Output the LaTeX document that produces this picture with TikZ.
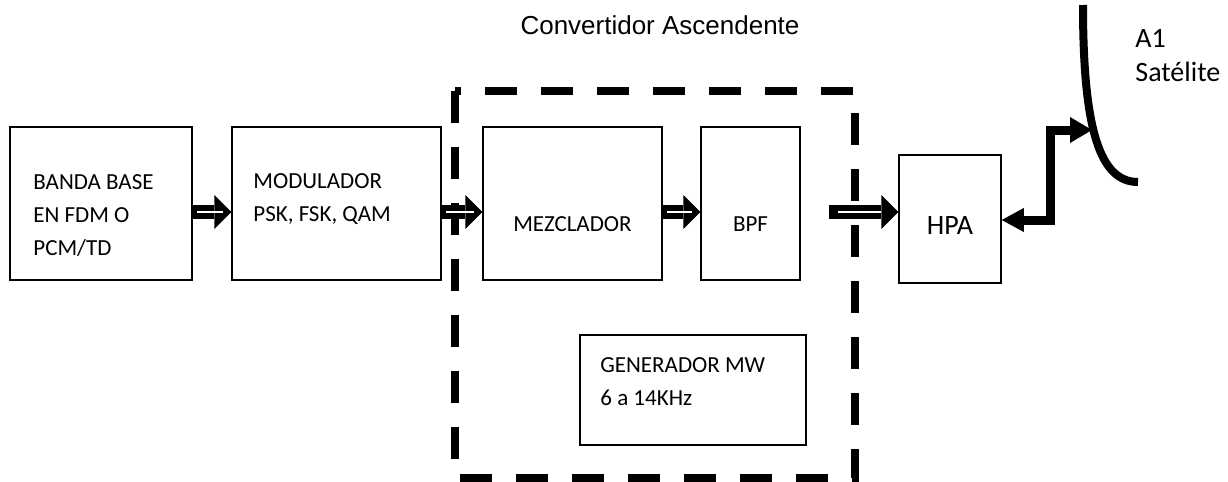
\documentclass[tikz,border=0pt]{standalone}
\usepackage{fontspec}
\setmainfont{Carlito}
\newfontfamily\arialfont{Liberation Sans}
\usetikzlibrary{arrows.meta}

\begin{document}
\begin{tikzpicture}[x=0.5pt, y=-0.5pt,
  blk/.style={draw, line width=0.75pt, inner sep=0pt},
  txt/.style={anchor=north west, inner sep=0pt, align=left, font=\fontsize{11.5}{16.5}\selectfont},
  fat/.style={line width=7pt, -{Triangle[length=8.5pt, width=17pt, line width=0pt]}},
  slit/.style={white, line width=1pt, shorten <=2pt, shorten >=4pt},
  feedline/.style={line width=4.5pt, {Triangle[length=11pt, width=12pt, line width=0pt]}-{Triangle[length=11pt, width=13pt, line width=0pt]}}]

  \useasboundingbox (0,0) rectangle (1228,482);

  % marco del convertidor
  \draw[line width=4pt, dash pattern=on 16pt off 12pt] (455,91) rectangle (855,478);
  \node[font=\arialfont\fontsize{13}{15}\selectfont] (title) at (660,25) {Convertidor Ascendente};

  % bloques
  \node[blk, minimum width=91pt, minimum height=76.5pt] (band) at (101,203.5) {};
  \node[blk, minimum width=104.5pt, minimum height=76.5pt] (modu) at (336.5,203.5) {};
  \node[blk, minimum width=89.5pt, minimum height=76.5pt] (mezc) at (572.5,203.5) {};
  \node[blk, minimum width=49.5pt, minimum height=76.5pt] (bpf) at (750.5,203.5) {};
  \node[blk, minimum width=51pt, minimum height=64pt] (hpa) at (950,219) {};
  \node[blk, minimum width=113pt, minimum height=55pt] (gen) at (693,390) {};

  \node[txt] (bandtxt) at (33,174) {BANDA BASE\\EN FDM O\\PCM/TD};
  \node[txt] (modutxt) at (253,173) {MODULADOR\\PSK, FSK, QAM};
  \node[txt] (gentxt) at (600,357) {GENERADOR MW\\6 a 14KHz};
  \node[font=\fontsize{11.5}{14}\selectfont] (mezctxt) at (mezc.center |- 0,224) {MEZCLADOR};
  \node[font=\fontsize{11.5}{14}\selectfont] (bpftxt) at (bpf.center |- 0,224) {BPF};
  \node[font=\fontsize{14}{16}\selectfont] (hpatxt) at (hpa.center |- 0,226) {HPA};

  % flechas dobles
  \draw[fat] ([yshift=-4.25pt]band.east) -- ([yshift=-4.25pt]modu.west);
  \draw[fat] ([yshift=-4.25pt]modu.east) -- ([yshift=-4.25pt]mezc.west);
  \draw[fat] ([yshift=-4.25pt]mezc.east) -- ([yshift=-4.25pt]bpf.west);
  \draw[fat, shorten <=14pt] ([yshift=-4.25pt]bpf.east) -- ([yshift=3.5pt]hpa.west);
  \draw[slit] ([yshift=-4.25pt]band.east) -- ([yshift=-4.25pt]modu.west);
  \draw[slit] ([yshift=-4.25pt]modu.east) -- ([yshift=-4.25pt]mezc.west);
  \draw[slit] ([yshift=-4.25pt]mezc.east) -- ([yshift=-4.25pt]bpf.west);
  \draw[slit, shorten <=18.5pt, shorten >=8.5pt] ([yshift=-4.25pt]bpf.east) -- ([yshift=3.5pt]hpa.west);

  % antena
  \coordinate (feed) at (1092,130);
  \draw[line width=4pt] (1083,5) .. controls (1083,130) and (1100,182) .. (1138,182);
  \draw[feedline] ([yshift=-0.5pt]hpa.east) -- ++(49,0) |- (feed);

  \node[anchor=west, inner sep=0pt, font=\fontsize{14}{16}\selectfont] (a1) at (1135,38) {A1};
  \node[anchor=west, inner sep=0pt, font=\fontsize{14}{16}\selectfont] (sat) at (1135,72) {Satélite};
\end{tikzpicture}
\end{document}
